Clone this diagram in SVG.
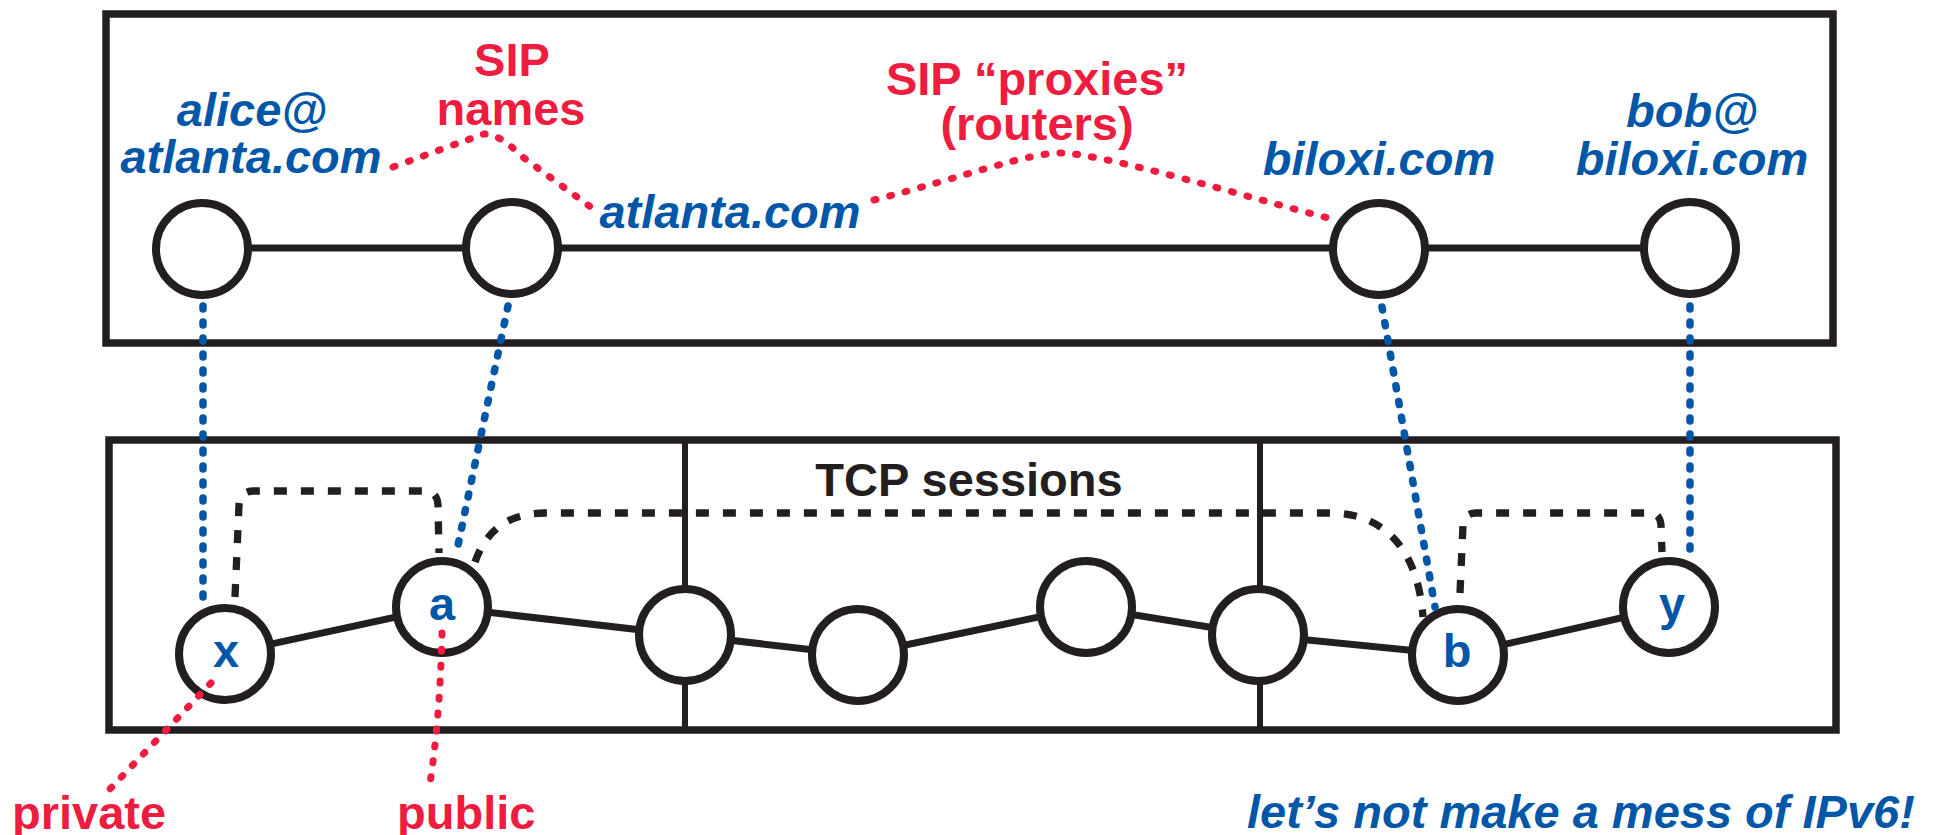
<svg xmlns="http://www.w3.org/2000/svg" width="1948" height="835" viewBox="0 0 1948 835">
  <defs>
    <style>
      .frame { fill: none; stroke: #231f20; stroke-width: 7.5; }
      .divider { fill: none; stroke: #231f20; stroke-width: 6; }
      .link { fill: none; stroke: #231f20; stroke-width: 7; }
      .node { fill: #ffffff; stroke: #231f20; stroke-width: 8; }
      .session { fill: none; stroke: #231f20; stroke-width: 7.3; stroke-dasharray: 13 14; }
      .map { fill: none; stroke: #0057a8; stroke-width: 7.5; stroke-linecap: round; stroke-dasharray: 3 13; }
      .note { fill: none; stroke: #ee1c3f; stroke-width: 7; stroke-linecap: round; stroke-dasharray: 2 14; }
      text { font-family: "Liberation Sans", Arial, sans-serif; font-weight: bold; font-size: 47px; }
      .blue { fill: #0057a8; }
      .red { fill: #ee1c3f; }
      .black { fill: #231f20; }
      .it { font-style: italic; }
      .mid { text-anchor: middle; }
    </style>
  </defs>

  <rect width="1948" height="835" fill="#ffffff"/>

  <!-- layer frames -->
  <g id="sip-layer">
    <rect class="frame" x="106" y="14" width="1727" height="329"/>
  </g>
  <g id="ip-layer">
    <rect class="frame" x="109" y="440" width="1727" height="290"/>
    <line class="divider" x1="685" y1="440" x2="685" y2="730"/>
    <line class="divider" x1="1260" y1="440" x2="1260" y2="730"/>
  </g>

  <!-- links between nodes -->
  <g id="links">
    <line class="link" x1="202" y1="248" x2="1690" y2="248"/>
    <polyline class="link" points="225,654 442,607 685,635 858,655 1086,607 1258,635 1458,655 1669,607"/>
  </g>

  <!-- SIP layer nodes -->
  <g id="node-alice"><circle class="node" cx="202" cy="249" r="46"/></g>
  <g id="node-atlanta"><circle class="node" cx="512" cy="248" r="46"/></g>
  <g id="node-biloxi"><circle class="node" cx="1379" cy="249" r="46"/></g>
  <g id="node-bob"><circle class="node" cx="1690" cy="248" r="46"/></g>

  <!-- IP layer nodes -->
  <g id="node-x">
    <circle class="node" cx="225" cy="654" r="46"/>
    <text class="blue mid" x="226" y="667">x</text>
  </g>
  <g id="node-a">
    <circle class="node" cx="442" cy="607" r="46"/>
    <text class="blue mid" x="442" y="620">a</text>
  </g>
  <g id="node-r1"><circle class="node" cx="685" cy="635" r="46"/></g>
  <g id="node-r2"><circle class="node" cx="858" cy="655" r="46"/></g>
  <g id="node-r3"><circle class="node" cx="1086" cy="607" r="46"/></g>
  <g id="node-r4"><circle class="node" cx="1258" cy="635" r="46"/></g>
  <g id="node-b">
    <circle class="node" cx="1458" cy="655" r="46"/>
    <text class="blue mid" x="1457" y="667">b</text>
  </g>
  <g id="node-y">
    <circle class="node" cx="1669" cy="607" r="46"/>
    <text class="blue mid" x="1672" y="620">y</text>
  </g>

  <!-- connectors: TCP sessions, name mappings, annotations -->
  <g id="connectors">
    <path class="session" d="M235,597 L239,505 Q240,491 254,491 L425,491 Q437,491 438,505 L439,553"/>
    <path class="session" d="M475,562 Q492,513 545,513 L1330,513 C1385,513 1418,550 1423,617"/>
    <path class="session" d="M1460,593 L1463,525 Q1464,513 1476,513 L1650,513 Q1660,513 1661,525 L1662,552"/>

    <line class="map" x1="203" y1="306" x2="203" y2="603"/>
    <line class="map" x1="508" y1="306" x2="457" y2="550"/>
    <line class="map" x1="1382" y1="307" x2="1435" y2="607"/>
    <line class="map" x1="1690" y1="306" x2="1690" y2="553"/>

    <path class="note" d="M393,167 Q450,146 484,134 Q500,134 520,155 L592,208"/>
    <path class="note" d="M874,200 C960,178 1030,152 1062,153 C1110,155 1250,198 1328,218"/>
    <path class="note" d="M211,683 L109,790"/>
    <path class="note" d="M442,633 Q440,720 429,790"/>
  </g>

  <!-- labels -->
  <g id="labels">
    <text class="blue it mid" x="252" y="126">alice@</text>
    <text class="blue it mid" x="251" y="173">atlanta.com</text>
    <text class="red mid" x="512" y="76">SIP</text>
    <text class="red mid" x="511" y="125">names</text>
    <text class="blue it mid" x="730" y="228">atlanta.com</text>
    <text class="red mid" x="1037" y="95">SIP “proxies”</text>
    <text class="red mid" x="1037" y="140">(routers)</text>
    <text class="blue it mid" x="1379" y="175">biloxi.com</text>
    <text class="blue it mid" x="1692" y="127">bob@</text>
    <text class="blue it mid" x="1692" y="175">biloxi.com</text>
    <text class="black mid" x="969" y="496">TCP sessions</text>
    <text class="red" x="12" y="829">private</text>
    <text class="red" x="397" y="829">public</text>
    <text class="blue it" x="1247" y="828">let’s not make a mess of IPv6!</text>
  </g>
</svg>
